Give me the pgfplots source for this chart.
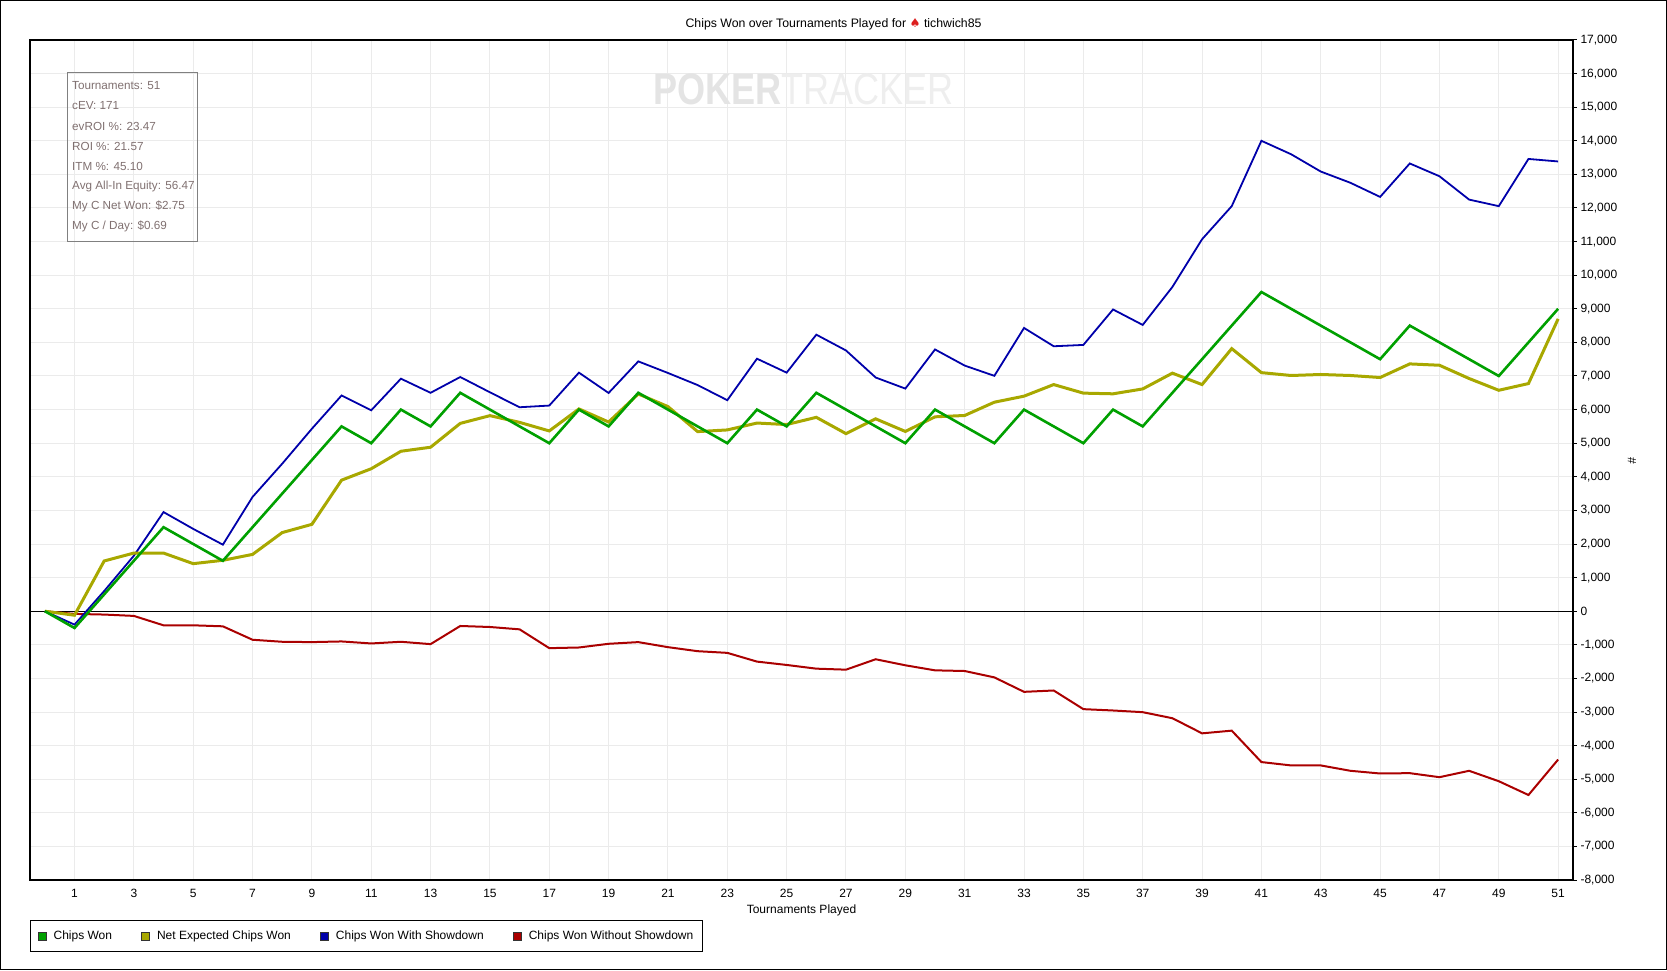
\documentclass[border=0pt]{standalone}
\usepackage{fontspec}
\setmainfont{Liberation Sans}
\newfontfamily\dejavu{DejaVu Sans}
\usepackage{graphicx}
\usepackage{pgfplots}
\pgfplotsset{compat=1.18}
\usepackage{pgfplotstable}

\definecolor{cgreen}{RGB}{0,160,0}
\definecolor{colive}{RGB}{168,168,0}
\definecolor{cblue}{RGB}{0,0,170}
\definecolor{cred}{RGB}{170,0,0}
\definecolor{gridgray}{RGB}{235,235,235}
\definecolor{statgray}{RGB}{128,112,112}
\definecolor{boxgray}{RGB}{128,128,128}
\definecolor{wmdark}{RGB}{228,228,228}
\definecolor{wmlight}{RGB}{238,238,238}
\definecolor{spadered}{RGB}{220,30,30}

\pgfplotstableread{
t v
0 0
1 -500
2 500
3 1500
4 2500
5 2000
6 1500
7 2500
8 3500
9 4500
10 5500
11 5000
12 6000
13 5500
14 6500
15 6000
16 5500
17 5000
18 6000
19 5500
20 6500
21 6000
22 5500
23 5000
24 6000
25 5500
26 6500
27 6000
28 5500
29 5000
30 6000
31 5500
32 5000
33 6000
34 5500
35 5000
36 6000
37 5500
38 6500
39 7500
40 8500
41 9500
42 9000
43 8500
44 8000
45 7500
46 8500
47 8000
48 7500
49 7000
50 8000
51 9000
}\greentab

\pgfplotstableread{
t v
0 0
1 -120
2 1495
3 1730
4 1730
5 1415
6 1515
7 1690
8 2340
9 2585
10 3900
11 4240
12 4760
13 4880
14 5590
15 5820
16 5620
17 5365
18 6020
19 5630
20 6465
21 6090
22 5345
23 5395
24 5600
25 5555
26 5770
27 5285
28 5725
29 5350
30 5785
31 5825
32 6220
33 6400
34 6745
35 6490
36 6470
37 6615
38 7085
39 6745
40 7815
41 7100
42 7015
43 7045
44 7015
45 6955
46 7360
47 7320
48 6925
49 6575
50 6775
51 8700
}\olivetab

\pgfplotstableread{
t v
0 0
1 -400
2 600
3 1650
4 2950
5 2450
6 1980
7 3400
8 4390
9 5430
10 6420
11 5980
12 6920
13 6500
14 6970
15 6515
16 6070
17 6120
18 7100
19 6495
20 7435
21 7090
22 6730
23 6280
24 7515
25 7100
26 8230
27 7760
28 6955
29 6625
30 7790
31 7310
32 7005
33 8430
34 7885
35 7925
36 8980
37 8520
38 9650
39 11070
40 12055
41 14000
42 13600
43 13085
44 12750
45 12330
46 13325
47 12945
48 12250
49 12055
50 13460
51 13385
}\bluetab

\pgfplotstableread{
t v
0 0
1 -80
2 -100
3 -140
4 -420
5 -420
6 -450
7 -850
8 -910
9 -920
10 -900
11 -960
12 -910
13 -980
14 -440
15 -470
16 -540
17 -1100
18 -1080
19 -970
20 -920
21 -1070
22 -1190
23 -1240
24 -1500
25 -1600
26 -1710
27 -1740
28 -1430
29 -1610
30 -1760
31 -1780
32 -1970
33 -2400
34 -2360
35 -2915
36 -2955
37 -3005
38 -3185
39 -3635
40 -3555
41 -4490
42 -4590
43 -4590
44 -4750
45 -4830
46 -4820
47 -4940
48 -4750
49 -5060
50 -5470
51 -4415
}\redtab

\begin{document}
\begin{tikzpicture}[x=1pt,y=1pt]
\useasboundingbox (0,0) rectangle (1667,970);
\draw[line width=1.2pt, black] (0.6,0.6) rectangle (1666.4,969.4);
\begin{axis}[
  at={(30pt,90pt)}, anchor=south west,
  scale only axis, width=1543pt, height=840pt,
  xmin=-0.5, xmax=51.5, ymin=-8000, ymax=17000,
  xtick={1,3,...,51},
  ytick={-8000,-7000,...,17000},
  grid=major,
  grid style={color=gridgray, line width=1pt},
  axis line style={line width=1.2pt, black},
  ytick pos=right, yticklabel pos=right,
  xtick pos=bottom,
  tick align=outside,
  major tick length=4pt,
  xtick style={draw=none},
  ytick style={line width=1pt, black},
  ticklabel style={font=\fontsize{12}{14}\selectfont},
  xticklabel style={yshift=-2pt},
  scaled y ticks=false,
  /pgf/number format/1000 sep={,},
  /pgf/number format/assume math mode=true,
  legend columns=4,
  legend cell align=left,
  legend style={at={(0,0)}, anchor=north west, yshift=-40pt,
    draw=black, line width=1.2pt,
    font=\fontsize{12}{14}\selectfont,
    inner xsep=7pt, inner ysep=8.5pt,
    /tikz/every even column/.append style={column sep=27pt}},
]
\addlegendimage{legend image code/.code={\draw[draw=black!80, fill=cgreen, line width=0.8pt] (0pt,-4pt) rectangle (8pt,4pt); \path (13pt,0pt);}}
\addlegendentry{Chips Won}
\addlegendimage{legend image code/.code={\draw[draw=black!80, fill=colive, line width=0.8pt] (0pt,-4pt) rectangle (8pt,4pt); \path (13pt,0pt);}}
\addlegendentry{Net Expected Chips Won}
\addlegendimage{legend image code/.code={\draw[draw=black!80, fill=cblue, line width=0.8pt] (0pt,-4pt) rectangle (8pt,4pt); \path (13pt,0pt);}}
\addlegendentry{Chips Won With Showdown}
\addlegendimage{legend image code/.code={\draw[draw=black!80, fill=cred, line width=0.8pt] (0pt,-4pt) rectangle (8pt,4pt); \path (13pt,0pt);}}
\addlegendentry{Chips Won Without Showdown}

\addplot[black, line width=1.2pt, forget plot] coordinates {(-0.5,0) (51.5,0)};
\addplot[cred, line width=2pt, forget plot] table[x=t,y=v] {\redtab};
\addplot[cblue, line width=1.8pt, forget plot] table[x=t,y=v] {\bluetab};
\addplot[colive, line width=3pt, forget plot] table[x=t,y=v] {\olivetab};
\addplot[cgreen, line width=2.6pt, forget plot] table[x=t,y=v] {\greentab};
\end{axis}

% title
\node[font=\fontsize{12.3}{14}\selectfont] at (833.5,946) {Chips Won over Tournaments Played for {\dejavu\textcolor{spadered}{♠}} tichwich85};
% x axis title
\node[font=\fontsize{12}{14}\selectfont] at (801.5,60) {Tournaments Played};
% right axis label
\node[font=\fontsize{12}{14}\selectfont, rotate=-90] at (1632,509) {\#};
% watermark
\node[font=\fontsize{44}{44}\selectfont] at (803.5,881) {\scalebox{0.82}[1]{\textcolor{wmdark}{\bfseries POKER}\textcolor{wmlight}{TRACKER}}};
% stats box
\draw[boxgray, line width=1pt] (67,728) rectangle (197,897);
\begin{scope}[every node/.style={anchor=west, inner sep=0pt, text=statgray, font=\fontsize{11.7}{13}\selectfont}]
\node at (72,884) {Tournaments: 51};
\node at (72,864) {cEV: 171};
\node at (72,844) {evROI \%: 23.47};
\node at (72,824) {ROI \%: 21.57};
\node at (72,804) {ITM \%: 45.10};
\node at (72,784) {Avg All-In Equity: 56.47};
\node at (72,764) {My C Net Won: \$2.75};
\node at (72,744) {My C / Day: \$0.69};
\end{scope}
\end{tikzpicture}
\end{document}
